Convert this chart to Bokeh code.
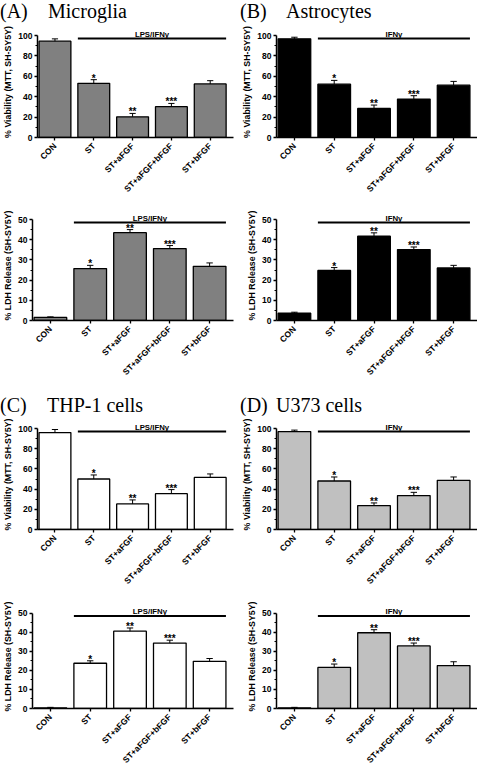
import math
from bokeh.plotting import figure
from bokeh.models import Range1d, FixedTicker, Div
from bokeh.layouts import column, row
from bokeh.embed import file_html
from bokeh.resources import INLINE
from bokeh.core.properties import value

# ---------------- data ----------------
categories = ["CON", "ST", "ST+aFGF", "ST+aFGF+bFGF", "ST+bFGF"]
positions = [1, 2, 3, 4, 5]
stars = ["", "*", "**", "***", ""]

mtt_ticks = [0, 20, 40, 60, 80, 100]
mtt_minor = [10, 30, 50, 70, 90]
ldh_ticks = [0, 10, 20, 30, 40, 50]
ldh_minor = [5, 15, 25, 35, 45]

# (A) Microglia
mtt_microglia = [94.4, 53.1, 20.3, 30.2, 52.5]
mtt_microglia_err = [2.3, 3.6, 3.3, 3.2, 3.2]
ldh_microglia = [1.5, 25.7, 43.5, 35.6, 26.8]
ldh_microglia_err = [0.3, 1.6, 1.5, 1.5, 1.7]

# (B) Astrocytes
mtt_astro = [96.7, 52.3, 28.5, 37.7, 51.3]
mtt_astro_err = [1.6, 3.7, 3.3, 3.3, 3.7]
ldh_astro = [3.6, 24.8, 41.7, 35.1, 26.0]
ldh_astro_err = [0.5, 1.4, 1.7, 1.3, 1.3]

# (C) THP-1 cells
mtt_thp = [96.0, 50.0, 25.3, 35.5, 51.6]
mtt_thp_err = [3.0, 4.0, 4.0, 4.0, 3.4]
ldh_thp = [0.3, 23.7, 40.5, 34.3, 24.7]
ldh_thp_err = [0.3, 1.3, 1.7, 1.5, 1.5]

# (D) U373 cells
mtt_u373 = [97.0, 48.0, 23.7, 33.6, 48.7]
mtt_u373_err = [1.4, 4.0, 2.6, 3.2, 3.3]
ldh_u373 = [0.3, 21.5, 39.7, 32.8, 22.5]
ldh_u373_err = [0.3, 1.8, 1.6, 1.5, 2.0]

titles = [("(A)", "Microglia"), ("(B)", "Astrocytes"), ("(C)", "THP-1 cells"), ("(D)", "U373 cells")]
treatments = ["LPS/IFN\u03b3", "IFN\u03b3", "LPS/IFN\u03b3", "IFN\u03b3"]

# ---------------- styling ----------------
SANS = "Liberation Sans"
BAR_W = 0.82
LEFT_W, RIGHT_W = 238, 239
HEADROOM = 9  # px above the top tick, room for the treatment label


def panel(vals, errs, color, ymax, ticks, minor, ylabel, treatment,
          width, b_left, b_right, b_top, plot_h, b_bottom):
    frame_h = plot_h + HEADROOM
    p = figure(width=width, height=b_top + frame_h + b_bottom,
               output_backend="svg", toolbar_location=None,
               x_range=Range1d(0.55, 5.6),
               y_range=Range1d(0, ymax * (1 + HEADROOM / plot_h)),
               min_border_left=b_left, min_border_right=b_right,
               min_border_top=b_top, min_border_bottom=b_bottom)
    p.xgrid.grid_line_color = None
    p.ygrid.grid_line_color = None
    p.outline_line_color = None

    p.vbar(x=positions, top=vals, bottom=0, width=BAR_W,
           fill_color=color, line_color="black", line_width=1.3)
    tops = [v + e for v, e in zip(vals, errs)]
    p.segment(x0=positions, y0=vals, x1=positions, y1=tops,
              line_color="black", line_width=1)
    p.segment(x0=[x - 0.08 for x in positions], y0=tops,
              x1=[x + 0.08 for x in positions], y1=tops,
              line_color="black", line_width=1)
    p.text(x=positions, y=tops, text=stars, text_align="center",
           text_baseline="alphabetic", text_font=value(SANS), text_color="black",
           text_font_style="bold", text_font_size="10px", y_offset=-1.5)

    # treatment bracket
    x0 = positions[1] - BAR_W / 2
    x1 = positions[-1] + BAR_W / 2
    ly = ymax * 0.97
    p.segment(x0=[x0], y0=[ly], x1=[x1], y1=[ly], line_color="black", line_width=2)
    p.text(x=[(x0 + x1) / 2], y=[ly], text=[treatment], text_align="center",
           text_baseline="alphabetic", y_offset=-4.5, text_font=value(SANS),
           text_color="black", text_font_style="bold", text_font_size="7.8px")

    p.xaxis.ticker = FixedTicker(ticks=positions)
    p.xaxis.major_label_overrides = {pos: c for pos, c in zip(positions, categories)}
    p.xaxis.major_label_orientation = math.pi / 4
    p.xaxis.minor_tick_line_color = None
    p.yaxis.ticker = FixedTicker(ticks=ticks, minor_ticks=minor)
    p.yaxis.bounds = (0, ymax)
    p.yaxis.axis_label = ylabel
    p.yaxis.axis_label_text_font = SANS
    p.yaxis.axis_label_text_font_style = "bold"
    p.yaxis.axis_label_text_font_size = "8.8px"
    p.yaxis.axis_label_text_color = "black"
    p.yaxis.axis_label_standoff = 2
    p.yaxis.minor_tick_out = 2
    p.yaxis.minor_tick_in = 0
    p.yaxis.minor_tick_line_width = 1.2
    p.yaxis.major_label_standoff = 2
    p.xaxis.major_label_standoff = 4
    for ax in (p.xaxis, p.yaxis):
        ax.axis_line_width = 1.5
        ax.major_tick_line_width = 1.3
        ax.major_tick_out = 3
        ax.major_tick_in = 0
        ax.major_label_text_font = SANS
        ax.major_label_text_font_style = "bold"
        ax.major_label_text_font_size = "8.5px"
        ax.major_label_text_color = "black"
    return p


def title_div(letter, name, width, pad, gap, height):
    html = ('<div style="font-family:\'Liberation Serif\';font-size:20px;line-height:22px;'
            'white-space:nowrap;color:#000;padding-left:%dpx">'
            '<span style="display:inline-block;width:%dpx">%s</span>%s</div>' % (pad, gap, letter, name))
    return Div(text=html, width=width, height=height, margin=0)


MTT = "% Viability (MTT, SH-SY5Y)"
LDH = "% LDH Release (SH-SY5Y)"

# geometry per row: (b_top, plot_h, b_bottom)
row1 = (4, 102, 68)
row2 = (5, 101, 74)
row3 = (4, 101, 70)
row4 = (5, 100, 58)

colors = ["#808080", "#000000", "#ffffff", "#c0c0c0"]
L = (LEFT_W, 31, 5)
R = (RIGHT_W, 38, 0)

mA = panel(mtt_microglia, mtt_microglia_err, colors[0], 100, mtt_ticks, mtt_minor, MTT, treatments[0], *L, *row1)
mB = panel(mtt_astro, mtt_astro_err, colors[1], 100, mtt_ticks, mtt_minor, MTT, treatments[1], *R, *row1)
lA = panel(ldh_microglia, ldh_microglia_err, colors[0], 50, ldh_ticks, ldh_minor, LDH, treatments[0], *L, *row2)
lB = panel(ldh_astro, ldh_astro_err, colors[1], 50, ldh_ticks, ldh_minor, LDH, treatments[1], *R, *row2)
mC = panel(mtt_thp, mtt_thp_err, colors[2], 100, mtt_ticks, mtt_minor, MTT, treatments[2], *L, *row3)
mD = panel(mtt_u373, mtt_u373_err, colors[3], 100, mtt_ticks, mtt_minor, MTT, treatments[3], *R, *row3)
lC = panel(ldh_thp, ldh_thp_err, colors[2], 50, ldh_ticks, ldh_minor, LDH, treatments[2], *L, *row4)
lD = panel(ldh_u373, ldh_u373_err, colors[3], 50, ldh_ticks, ldh_minor, LDH, treatments[3], *R, *row4)

dA = title_div(titles[0][0], titles[0][1], LEFT_W, 0, 48, 22)
dB = title_div(titles[1][0], titles[1][1], RIGHT_W, 2, 46, 22)
dC = title_div(titles[2][0], titles[2][1], LEFT_W, 0, 47, 21)
dD = title_div(titles[3][0], titles[3][1], RIGHT_W, 2, 36, 21)

layout = column(row(dA, dB), row(mA, mB), row(lA, lB),
                row(dC, dD), row(mC, mD), row(lC, lD))

open("out.html", "w").write(file_html(layout, INLINE))
